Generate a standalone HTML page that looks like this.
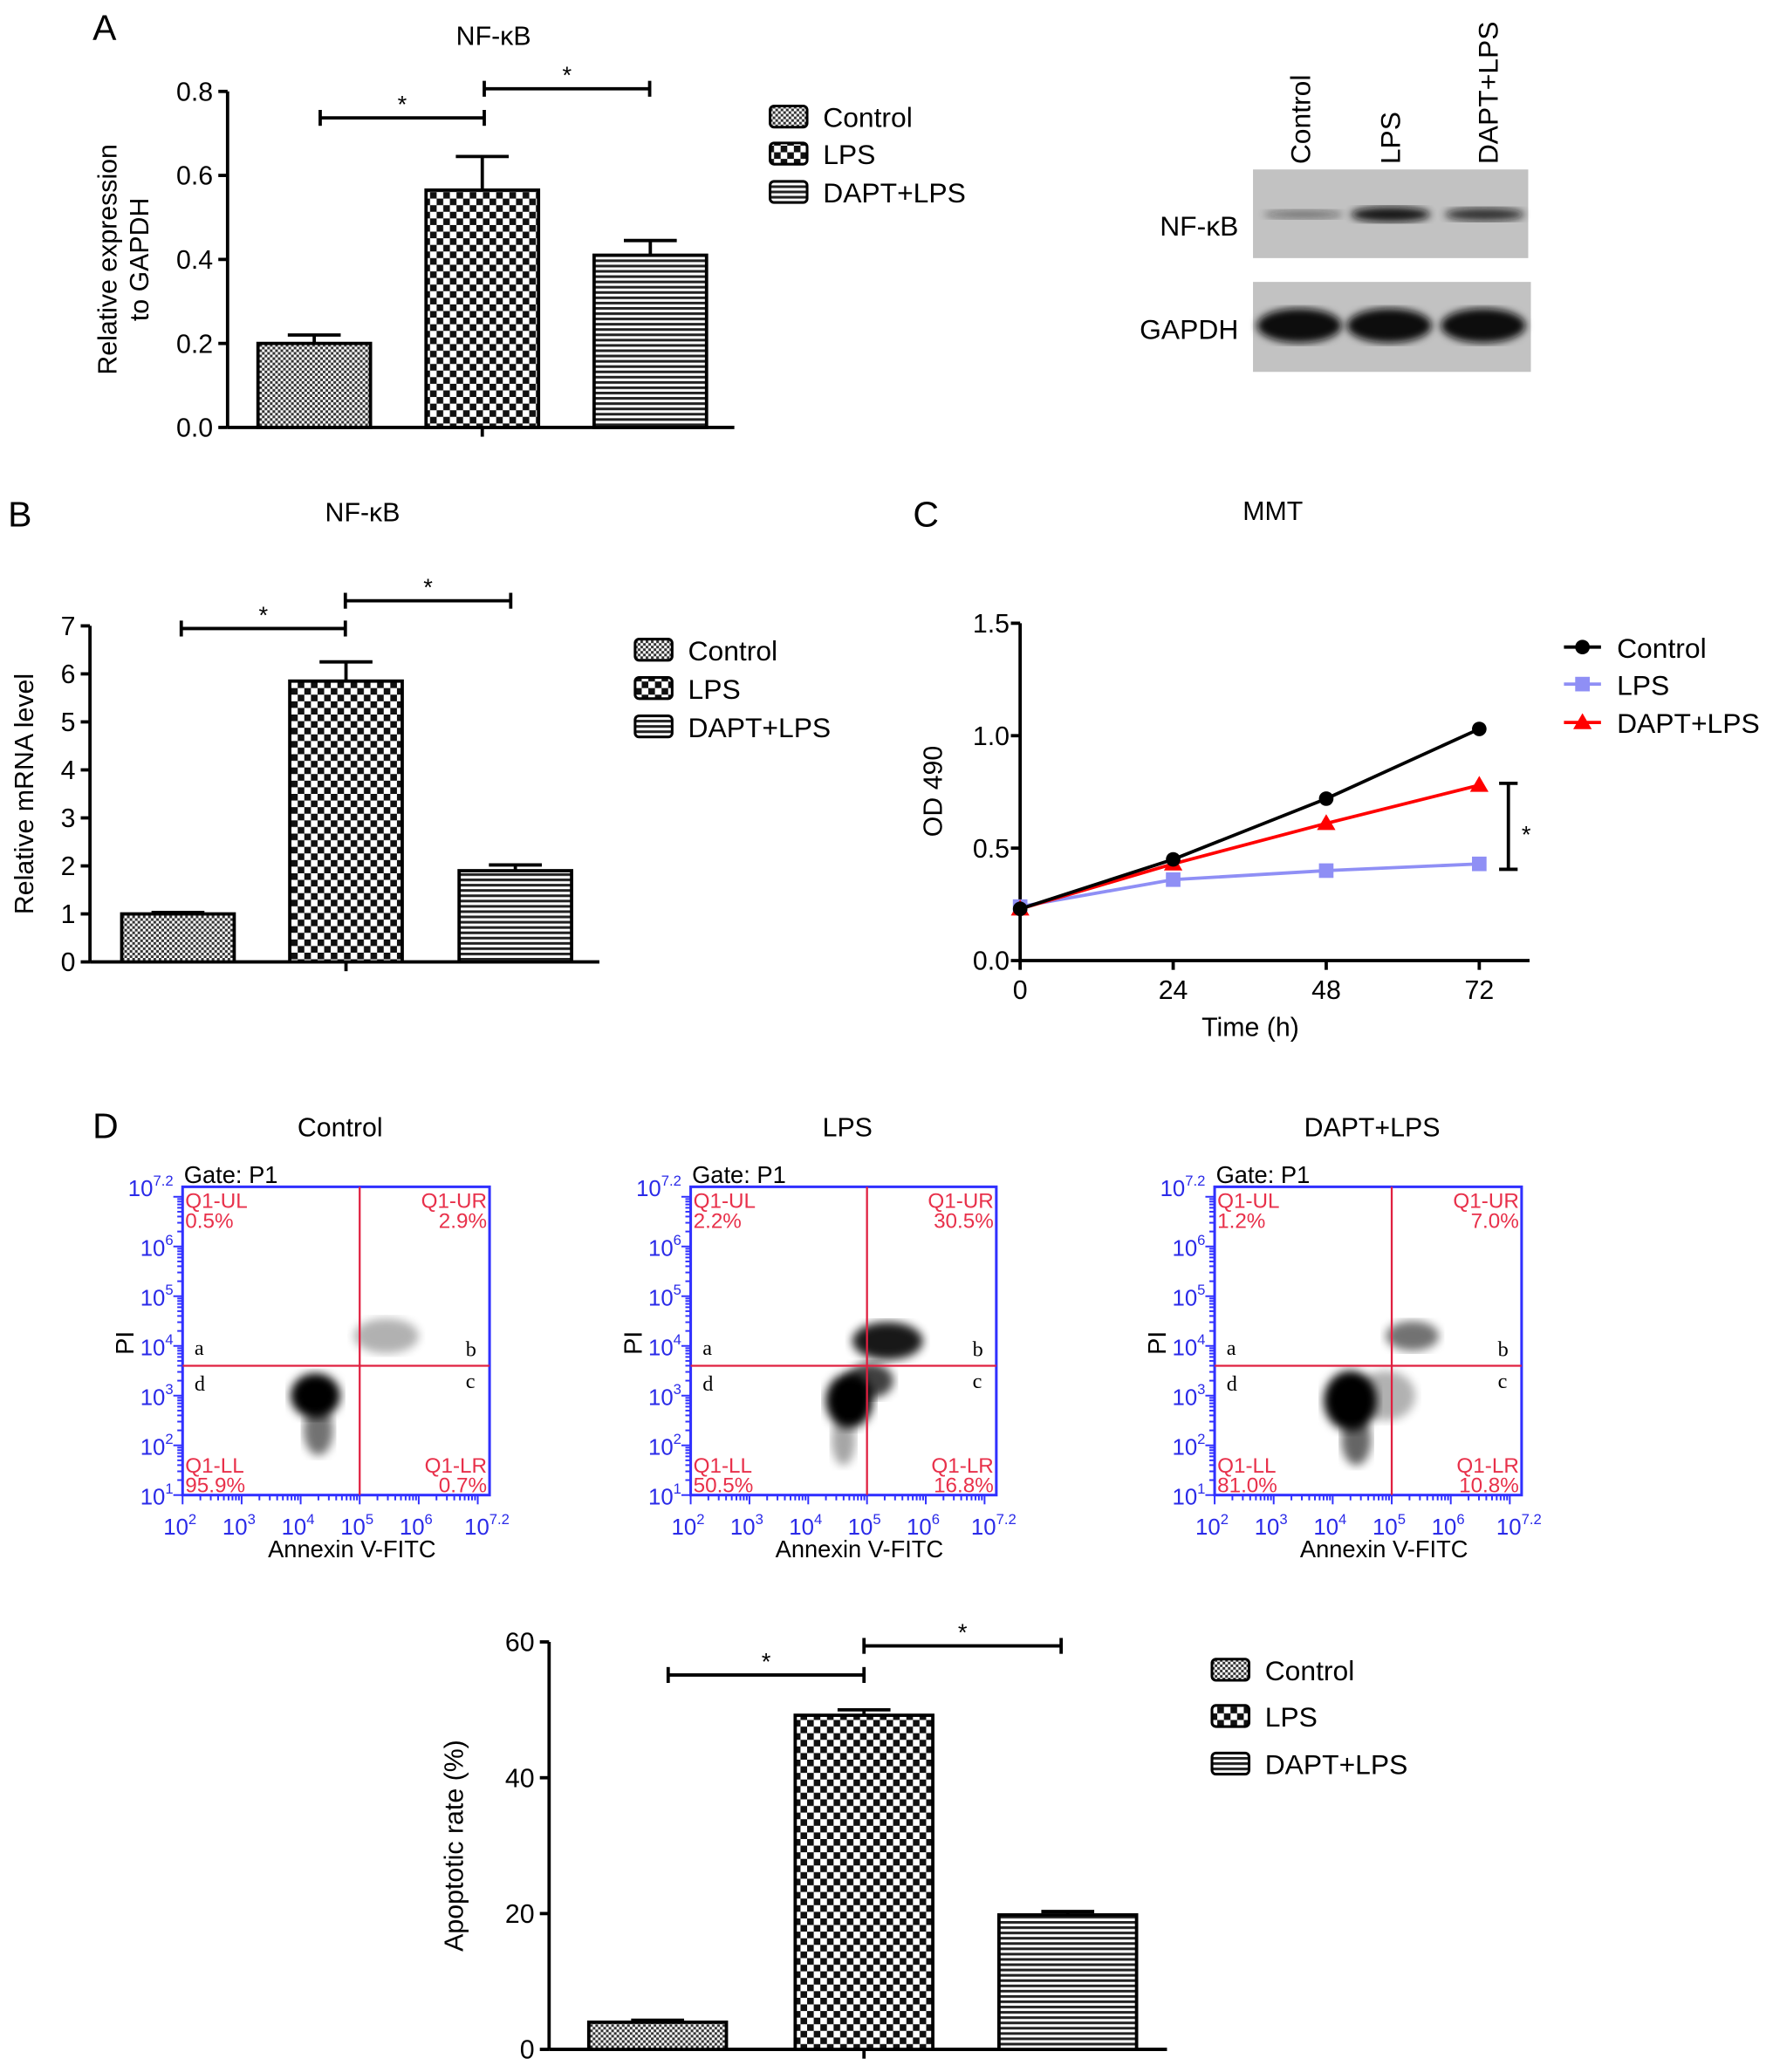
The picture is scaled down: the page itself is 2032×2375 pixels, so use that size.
<!DOCTYPE html>
<html><head><meta charset="utf-8">
<style>
html,body{margin:0;padding:0;background:#fff;}
svg{display:block;font-family:"Liberation Sans",Arial,sans-serif;}
</style></head>
<body>
<svg id="fig" width="2032" height="2375" viewBox="0 0 1340 1566" xmlns="http://www.w3.org/2000/svg">
<defs>
<pattern id="pCtrl" width="4" height="4" patternUnits="userSpaceOnUse"><rect width="4" height="4" fill="#fff"/><rect width="2" height="2" fill="#333"/><rect x="2" y="2" width="2" height="2" fill="#333"/></pattern>
<pattern id="pLps" width="10" height="10" patternUnits="userSpaceOnUse"><rect width="10" height="10" fill="#fff"/><rect width="5" height="5" fill="#111"/><rect x="5" y="5" width="5" height="5" fill="#111"/></pattern>
<pattern id="pDapt" width="4" height="4" patternUnits="userSpaceOnUse"><rect width="4" height="4" fill="#fff"/><rect width="4" height="2" fill="#222"/></pattern>
<filter id="blur3"><feGaussianBlur stdDeviation="3"/></filter>
<filter id="blurB"><feGaussianBlur stdDeviation="3.5"/></filter>
</defs>
<g id="root"></g>
</svg>
<script>
// ---- data ----
const groups = ["Control","LPS","DAPT+LPS"];
const aValues = [0.2, 0.565, 0.41];
const aErrors = [0.02, 0.08, 0.035];
const aTicks = [0.0,0.2,0.4,0.6,0.8];
const bValues = [1.0, 5.85, 1.9];
const bErrors = [0.03, 0.4, 0.12];
const bTicks = [0,1,2,3,4,5,6,7];
const dValues = [4.0, 49.2, 19.8];
const dErrors = [0.3, 0.8, 0.5];
const dTicks = [0,20,40,60];
const cTimes = [0,24,48,72];
const cControl = [0.23,0.45,0.72,1.03];
const cLps = [0.24,0.36,0.40,0.43];
const cDapt = [0.23,0.43,0.61,0.78];
const cTicks = [0.0,0.5,1.0,1.5];
const flowQuads = [["0.5%","2.9%","95.9%","0.7%"],["2.2%","30.5%","50.5%","16.8%"],["1.2%","7.0%","81.0%","10.8%"]];
// clusters: [xlog, ylog, rxlog, rylog, opacity]
const flowClusters = [
 [[4.25,3.0,0.42,0.45,1],[4.3,2.3,0.25,0.5,0.55],[5.45,4.2,0.55,0.35,0.3]],
 [[4.7,2.9,0.4,0.55,1],[5.35,4.1,0.6,0.38,0.9],[5.05,3.3,0.4,0.35,0.75],[4.6,2.1,0.2,0.5,0.35]],
 [[4.3,2.9,0.45,0.6,1],[4.4,2.1,0.25,0.5,0.6],[5.35,4.2,0.45,0.3,0.55],[4.9,3.0,0.5,0.5,0.3]]
];
const fills = ["url(#pCtrl)","url(#pLps)","url(#pDapt)"];

const NS="http://www.w3.org/2000/svg";
const root=document.getElementById('root');
function mk(tag,attrs,parent,text){const e=document.createElementNS(NS,tag);for(const k in attrs)e.setAttribute(k,attrs[k]);if(text!==undefined)e.textContent=text;(parent||root).appendChild(e);return e;}

function barChart(cfg){
  const g=mk('g',{});
  
  
  const y=v=>cfg.y0-(v-cfg.min)/(cfg.max-cfg.min)*(cfg.y0-cfg.ytop);
  mk('line',{x1:cfg.x0,y1:cfg.ytop,x2:cfg.x0,y2:cfg.y0,stroke:'#000','stroke-width':2.5},g);
  mk('line',{x1:cfg.x0,y1:cfg.y0,x2:cfg.x1,y2:cfg.y0,stroke:'#000','stroke-width':2.5},g);
  cfg.ticks.forEach(t=>{
    mk('line',{x1:cfg.x0-7,y1:y(t),x2:cfg.x0,y2:y(t),stroke:'#000','stroke-width':2.5},g);
    const tl=mk('text',{x:cfg.x0-11,y:y(t)+7,'text-anchor':'end','font-size':20},g,cfg.fmt(t));
    
    
  });
  const mid=(cfg.barX[1]+cfg.barW/2);
  mk('line',{x1:mid,y1:cfg.y0,x2:mid,y2:cfg.y0+7,stroke:'#000','stroke-width':2.5},g);
  cfg.values.forEach((v,i)=>{
    const bx=cfg.barX[i];const cx=bx+cfg.barW/2;
    const top=y(v+cfg.errors[i]);
    mk('line',{x1:cx,y1:top,x2:cx,y2:y(v),stroke:'#000','stroke-width':2.5},g);
    mk('line',{x1:cx-20,y1:top,x2:cx+20,y2:top,stroke:'#000','stroke-width':2.5},g);
    const r=mk('rect',{x:bx,y:y(v),width:cfg.barW,height:cfg.y0-y(v),fill:fills[i],stroke:'#000','stroke-width':2.5},g);
    
    
  });
  const yt=mk('text',{transform:`translate(${cfg.ylabX},${(cfg.y0+cfg.ytop)/2}) rotate(-90)`,'text-anchor':'middle','font-size':20},g);
  
  
  cfg.ylab.forEach((l,k)=>mk('tspan',{x:0,dy:k?24:0},yt,l));
  cfg.sig.forEach(s=>{
    mk('line',{x1:s[0],y1:s[2],x2:s[1],y2:s[2],stroke:'#000','stroke-width':2.5},g);
    mk('line',{x1:s[0],y1:s[2]-6,x2:s[0],y2:s[2]+6,stroke:'#000','stroke-width':2.5},g);
    mk('line',{x1:s[1],y1:s[2]-6,x2:s[1],y2:s[2]+6,stroke:'#000','stroke-width':2.5},g);
    mk('text',{x:(s[0]+s[1])/2,y:s[2]-4,'text-anchor':'middle','font-size':18},g,'*');
  });
  const lg=mk('g',{},g);
  
  
  groups.forEach((n,i)=>{
    const ly=cfg.legY[i];
    mk('rect',{x:cfg.legX,y:ly-8,width:28,height:16,rx:3,fill:fills[i],stroke:'#000','stroke-width':2},lg);
    mk('text',{x:cfg.legX+40,y:ly+8,'font-size':21},lg,n);
  });
  return g;
}

[['A',70,30],['B',6,398],['C',690,398],['D',70,860]].forEach(l=>mk('text',{x:l[1],y:l[2],'font-size':27},root,l[0]));
mk('text',{x:373,y:34,'text-anchor':'middle','font-size':20},root,'NF-κB');
mk('text',{x:274,y:394,'text-anchor':'middle','font-size':20},root,'NF-κB');
mk('text',{x:962,y:393,'text-anchor':'middle','font-size':20},root,'MMT');

barChart({name:'chart-a',x0:172,x1:555,y0:323,ytop:69,min:0,max:0.8,ticks:aTicks,fmt:t=>t.toFixed(1),values:aValues,errors:aErrors,barX:[195,322,449],barW:85,ylab:['Relative expression','to GAPDH'],ylabX:88,sig:[[242,366,89],[366,491,67]],legX:582,legY:[88,116,145]});
barChart({name:'chart-b',x0:68,x1:453,y0:727,ytop:473,min:0,max:7,ticks:bTicks,fmt:t=>String(t),values:bValues,errors:bErrors,barX:[92,219,347],barW:85,ylab:['Relative mRNA level'],ylabX:25,sig:[[137,261,475],[261,386,454]],legX:480,legY:[491,520,549]});
barChart({name:'chart-d',x0:415,x1:882,y0:1549,ytop:1241,min:0,max:60,ticks:dTicks,fmt:t=>String(t),values:dValues,errors:dErrors,barX:[445,601,755],barW:104,ylab:['Apoptotic rate (%)'],ylabX:350,sig:[[505,653,1266],[653,802,1244]],legX:916,legY:[1262,1297,1333]});

// Western blot
(function(){
  const g=mk('g',{});
  
  
  mk('rect',{x:947,y:128,width:208,height:67,fill:'#c2c2c2'},g);
  mk('rect',{x:947,y:213,width:210,height:68,fill:'#c2c2c2'},g);
  [[985,0.45,30],[1051,0.95,30],[1122,0.8,30]].forEach(b=>mk('ellipse',{cx:b[0],cy:162,rx:b[2],ry:5*b[1]+1,fill:'#111',opacity:b[1],filter:'url(#blur3)'},g));
  [982,1050,1121].forEach(x=>mk('ellipse',{cx:x,cy:246,rx:32,ry:13,fill:'#0a0a0a',filter:'url(#blur3)'},g));
  mk('text',{x:936,y:178,'text-anchor':'end','font-size':21},g,'NF-κB');
  mk('text',{x:936,y:256,'text-anchor':'end','font-size':21},g,'GAPDH');
  [[990,'Control'],[1058,'LPS'],[1132,'DAPT+LPS']].forEach(l=>mk('text',{transform:`translate(${l[0]},124) rotate(-90)`,'font-size':21},g,l[1]));
})();

// Line chart C
(function(){
  const g=mk('g',{});
  
  
  const x0=771,x1=1118,y0=726,yt=471;
  const X=t=>x0+t/72*(x1-x0), Y=v=>y0-v/1.5*(y0-yt);
  mk('line',{x1:x0,y1:yt,x2:x0,y2:y0,stroke:'#000','stroke-width':2.5},g);
  mk('line',{x1:x0,y1:y0,x2:1156,y2:y0,stroke:'#000','stroke-width':2.5},g);
  cTicks.forEach(t=>{mk('line',{x1:x0-7,y1:Y(t),x2:x0,y2:Y(t),stroke:'#000','stroke-width':2.5},g);mk('text',{x:x0-8,y:Y(t)+7,'text-anchor':'end','font-size':20},g,t.toFixed(1));});
  cTimes.forEach(t=>{mk('line',{x1:X(t),y1:y0,x2:X(t),y2:y0+7,stroke:'#000','stroke-width':2.5},g);mk('text',{x:X(t),y:y0+29,'text-anchor':'middle','font-size':20},g,String(t));});
  mk('text',{x:945,y:783,'text-anchor':'middle','font-size':20},g,'Time (h)');
  mk('text',{transform:`translate(712,598) rotate(-90)`,'text-anchor':'middle','font-size':20},g,'OD 490');
  const series=[[cLps,'#8f8ff5','sq','LPS'],[cDapt,'#f00','tri','DAPT+LPS'],[cControl,'#000','circ','Control']];
  function marker(type,x,y,c,p){
    if(type==='circ')return mk('circle',{cx:x,cy:y,r:5.5,fill:c},p);
    if(type==='sq')return mk('rect',{x:x-5.5,y:y-5.5,width:11,height:11,fill:c},p);
    return mk('polygon',{points:`${x},${y-7} ${x-7},${y+5} ${x+7},${y+5}`,fill:c},p);
  }
  series.forEach(s=>{
    const sg=mk('g',{},g);
    
    
    mk('polyline',{points:s[0].map((v,i)=>X(cTimes[i])+','+Y(v)).join(' '),fill:'none',stroke:s[1],'stroke-width':2.5},sg);
    s[0].forEach((v,i)=>marker(s[2],X(cTimes[i]),Y(v),s[1],sg));
  });
  mk('line',{x1:1140,y1:592,x2:1140,y2:657,stroke:'#000','stroke-width':2.5},g);
  mk('line',{x1:1133,y1:592,x2:1147,y2:592,stroke:'#000','stroke-width':2.5},g);
  mk('line',{x1:1133,y1:657,x2:1147,y2:657,stroke:'#000','stroke-width':2.5},g);
  mk('text',{x:1150,y:637,'font-size':18},g,'*');
  const lg=mk('g',{},g);
  
  
  [['Control','#000','circ',489],['LPS','#8f8ff5','sq',517],['DAPT+LPS','#f00','tri',546]].forEach(l=>{
    mk('line',{x1:1182,y1:l[3],x2:1210,y2:l[3],stroke:l[1],'stroke-width':2.5},lg);
    marker(l[2],1196,l[3],l[1],lg);
    mk('text',{x:1222,y:l[3]+8,'font-size':21},lg,l[0]);
  });
})();

// Flow plots
const flowBox=[[138,370],[522,753],[918,1150]];
const flowTitles=["Control","LPS","DAPT+LPS"];
flowBox.forEach((b,k)=>{
  const g=mk('g',{});
  
  
  const bx0=b[0],bx1=b[1],by0=897,by1=1130;
  const X=l=>bx0+(l-2)/5.2*(bx1-bx0), Y=l=>by1-(l-1)/6.2*(by1-by0);
  mk('text',{x:(bx0+bx1)/2+3,y:859,'text-anchor':'middle','font-size':20},g,flowTitles[k]);
  flowClusters[k].forEach(c=>{
    mk('ellipse',{cx:X(c[0]),cy:Y(c[1]),rx:(c[2])/5.2*(bx1-bx0),ry:(c[3])/6.2*(by1-by0),fill:'#000',opacity:c[4],filter:'url(#blurB)'},g);
  });
  mk('rect',{x:bx0,y:by0,width:bx1-bx0,height:by1-by0,fill:'none',stroke:'#3030ff','stroke-width':2},g);
  const qx=X(5),qy=Y(3.6);
  mk('line',{x1:qx,y1:by0,x2:qx,y2:by1,stroke:'#e02040','stroke-width':1.5},g);
  mk('line',{x1:bx0,y1:qy,x2:bx1,y2:qy,stroke:'#e02040','stroke-width':1.5},g);
  mk('text',{x:bx0+1,y:894,'font-size':18},g,'Gate: P1');
  const q=flowQuads[k], red='#e8304a';
  [['Q1-UL',q[0],bx0+2,'start',913],['Q1-UR',q[1],bx1-2,'end',913],['Q1-LL',q[2],bx0+2,'start',1113],['Q1-LR',q[3],bx1-2,'end',1113]].forEach(t=>{
    mk('text',{x:t[2],y:t[4],'text-anchor':t[3],'font-size':16,fill:red},g,t[0]);
    mk('text',{x:t[2],y:t[4]+15,'text-anchor':t[3],'font-size':16,fill:red},g,t[1]);
  });
  [['a',bx0+9,1024],['b',bx1-18,1025],['c',bx1-18,1049],['d',bx0+9,1051]].forEach(t=>mk('text',{x:t[1],y:t[2],'font-size':16,'font-family':'Liberation Serif, serif'},g,t[0]));
  for(let d=1;d<=7;d++){for(let m=1;m<10;m++){const l=d+Math.log10(m);if(l>7.2)break;
    mk('line',{x1:bx0-(m===1?7:4),y1:Y(l),x2:bx0,y2:Y(l),stroke:'#3030ff','stroke-width':1.3},g);}}
  for(let d=2;d<=7;d++){for(let m=1;m<10;m++){const l=d+Math.log10(m);if(l>7.2)break;
    mk('line',{x1:X(l),y1:by1,x2:X(l),y2:by1+(m===1?7:4),stroke:'#3030ff','stroke-width':1.3},g);}}
  const blue='#2a2ae8';
  [1,2,3,4,5,6,7.2].forEach(e=>{const t=mk('text',{x:bx0-7,y:Y(e)+7,'text-anchor':'end','font-size':17,fill:blue},g,'10');mk('tspan',{dy:-8,'font-size':11},t,String(e));});
  [2,3,4,5,6,7.2].forEach(e=>{const t=mk('text',{x:X(e)-2,y:1160,'text-anchor':'middle','font-size':17,fill:blue},g,'10');mk('tspan',{dy:-8,'font-size':11},t,String(e));});
  mk('text',{x:(bx0+bx1)/2+12,y:1177,'text-anchor':'middle','font-size':18},g,'Annexin V-FITC');
  mk('text',{transform:`translate(${bx0-37},1015) rotate(-90)`,'text-anchor':'middle','font-size':19},g,'PI');
});
</script>
</body></html>
